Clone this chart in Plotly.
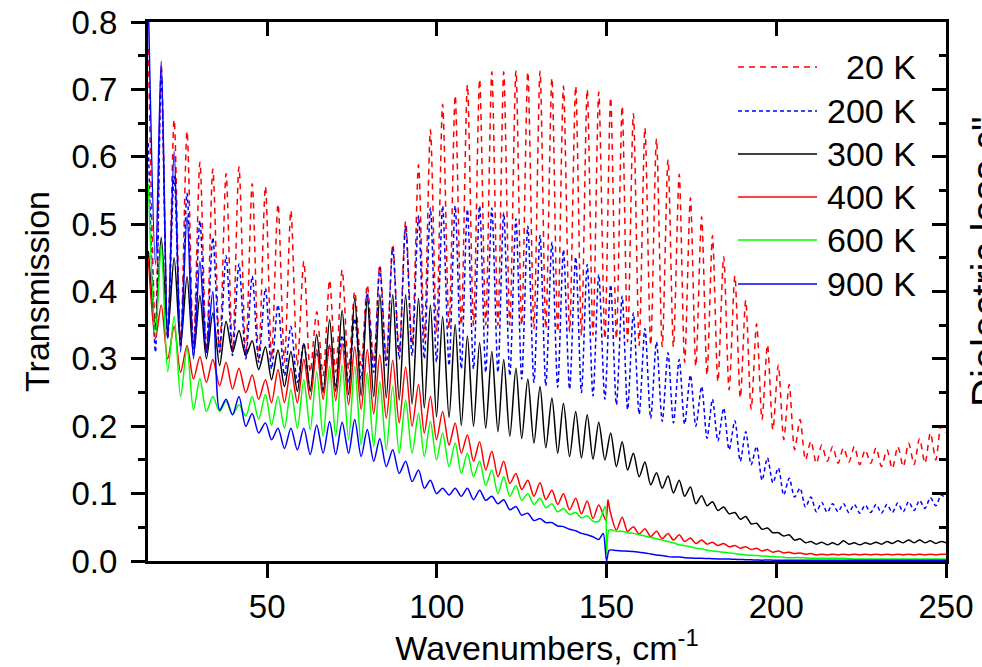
import plotly.graph_objects as go

# ---------------- data ----------------
# wavenumber positions of fringe maxima / minima (cm^-1)
peak_x = [15.0, 18.8, 22.6, 26.4, 30.2, 34.0, 37.9, 41.7, 45.6, 49.5,
          53.2, 57.0, 60.8, 64.6, 68.4, 72.1, 75.8, 79.5, 83.2, 87.0,
          90.8, 94.6, 98.1, 101.7, 105.4, 109.0, 112.6, 116.2, 119.7, 123.3,
          126.8, 130.4, 133.9, 137.3, 140.9, 144.3, 147.7, 151.2, 154.6, 157.9,
          161.3, 164.7, 168.1, 171.4, 174.7, 178.0, 181.2, 184.5, 187.8, 191.0,
          194.2, 197.4, 200.6, 203.8, 207.0, 210.2, 213.4, 216.6, 219.8, 223.0,
          226.2, 229.4, 232.6, 235.8, 239.0, 242.2, 245.4, 248.6]
trough_x = [17.1, 20.7, 24.5, 28.3, 32.1, 36.0, 39.8, 43.7, 47.5, 51.3,
            55.1, 58.9, 62.7, 66.5, 70.2, 74.0, 77.7, 81.4, 85.1, 88.9,
            92.7, 96.3, 99.9, 103.6, 107.2, 110.8, 114.4, 118.0, 121.5, 125.0,
            128.6, 132.1, 135.6, 139.1, 142.6, 146.0, 149.5, 152.9, 156.2, 159.6,
            163.0, 166.4, 169.7, 173.0, 176.3, 179.6, 182.8, 186.1, 189.4, 192.6,
            195.8, 199.0, 202.2, 205.4, 208.6, 211.8, 215.0, 218.2, 221.4, 224.6,
            227.8, 231.0, 234.2, 237.4, 240.6, 243.8, 247.0, 250.0]

t20_peak = [0.760, 0.735, 0.655, 0.638, 0.592, 0.582, 0.575, 0.585, 0.560, 0.556,
            0.530, 0.520, 0.445, 0.370, 0.417, 0.432, 0.400, 0.410, 0.440, 0.470,
            0.504, 0.588, 0.640, 0.678, 0.691, 0.707, 0.715, 0.726, 0.726, 0.728,
            0.726, 0.727, 0.717, 0.705, 0.705, 0.700, 0.696, 0.688, 0.675, 0.664,
            0.643, 0.627, 0.596, 0.574, 0.539, 0.511, 0.483, 0.452, 0.423, 0.387,
            0.352, 0.321, 0.291, 0.262, 0.210, 0.178, 0.172, 0.170, 0.168, 0.170,
            0.165, 0.168, 0.165, 0.170, 0.175, 0.182, 0.190, 0.200]
t20_trough = [0.340, 0.330, 0.320, 0.315, 0.310, 0.310, 0.310, 0.305, 0.300, 0.300,
              0.295, 0.290, 0.280, 0.275, 0.280, 0.285, 0.290, 0.295, 0.300, 0.310,
              0.320, 0.330, 0.340, 0.345, 0.350, 0.350, 0.350, 0.350, 0.350, 0.350,
              0.345, 0.345, 0.340, 0.340, 0.335, 0.335, 0.330, 0.330, 0.325, 0.320,
              0.320, 0.318, 0.318, 0.295, 0.289, 0.276, 0.266, 0.254, 0.242, 0.225,
              0.210, 0.195, 0.180, 0.165, 0.150, 0.145, 0.148, 0.145, 0.147, 0.143,
              0.145, 0.140, 0.137, 0.140, 0.143, 0.145, 0.150, 0.190]

t200_peak = [0.620, 0.720, 0.571, 0.546, 0.505, 0.480, 0.453, 0.441, 0.423, 0.405,
             0.380, 0.348, 0.323, 0.310, 0.320, 0.335, 0.360, 0.398, 0.435, 0.465,
             0.497, 0.512, 0.524, 0.527, 0.527, 0.522, 0.527, 0.524, 0.517, 0.508,
             0.497, 0.483, 0.473, 0.462, 0.451, 0.440, 0.425, 0.410, 0.393, 0.368,
             0.345, 0.325, 0.309, 0.299, 0.276, 0.259, 0.240, 0.227, 0.208, 0.192,
             0.170, 0.153, 0.138, 0.123, 0.108, 0.095, 0.087, 0.085, 0.085, 0.084,
             0.083, 0.084, 0.084, 0.086, 0.088, 0.090, 0.094, 0.098]
t200_trough = [0.310, 0.330, 0.320, 0.315, 0.310, 0.310, 0.305, 0.300, 0.295, 0.285,
               0.275, 0.265, 0.255, 0.255, 0.260, 0.265, 0.270, 0.280, 0.290, 0.300,
               0.305, 0.300, 0.295, 0.290, 0.285, 0.285, 0.280, 0.280, 0.275, 0.270,
               0.265, 0.260, 0.258, 0.255, 0.250, 0.245, 0.240, 0.232, 0.225, 0.218,
               0.212, 0.207, 0.205, 0.203, 0.200, 0.182, 0.178, 0.165, 0.148, 0.143,
               0.120, 0.116, 0.098, 0.095, 0.080, 0.073, 0.072, 0.073, 0.072, 0.071,
               0.072, 0.071, 0.072, 0.073, 0.075, 0.078, 0.082, 0.092]

t300_peak = [0.460, 0.480, 0.450, 0.422, 0.394, 0.368, 0.356, 0.342, 0.327, 0.318,
             0.313, 0.311, 0.323, 0.336, 0.358, 0.372, 0.390, 0.390, 0.395, 0.395,
             0.395, 0.390, 0.380, 0.363, 0.351, 0.334, 0.324, 0.311, 0.299, 0.286,
             0.270, 0.259, 0.242, 0.234, 0.222, 0.217, 0.206, 0.190, 0.177, 0.160,
             0.147, 0.131, 0.126, 0.120, 0.110, 0.097, 0.088, 0.080, 0.072, 0.066,
             0.056, 0.049, 0.042, 0.039, 0.033, 0.029, 0.028, 0.027, 0.030, 0.027,
             0.027, 0.028, 0.029, 0.030, 0.031, 0.031, 0.030, 0.029]
t300_trough = [0.350, 0.340, 0.320, 0.305, 0.300, 0.290, 0.310, 0.305, 0.284, 0.269,
               0.259, 0.252, 0.252, 0.250, 0.252, 0.247, 0.245, 0.244, 0.242, 0.239,
               0.233, 0.227, 0.214, 0.213, 0.201, 0.200, 0.197, 0.192, 0.185, 0.182,
               0.175, 0.168, 0.160, 0.155, 0.153, 0.151, 0.150, 0.140, 0.135, 0.125,
               0.113, 0.108, 0.101, 0.096, 0.085, 0.082, 0.075, 0.070, 0.062, 0.055,
               0.047, 0.042, 0.037, 0.031, 0.027, 0.025, 0.024, 0.024, 0.025, 0.024,
               0.025, 0.025, 0.026, 0.027, 0.027, 0.027, 0.026, 0.027]

t400_peak = [0.450, 0.380, 0.348, 0.320, 0.303, 0.299, 0.295, 0.286, 0.276, 0.269,
             0.284, 0.286, 0.299, 0.314, 0.321, 0.323, 0.318, 0.314, 0.306, 0.298,
             0.288, 0.262, 0.244, 0.222, 0.205, 0.187, 0.177, 0.163, 0.148, 0.130,
             0.120, 0.116, 0.105, 0.100, 0.093, 0.089, 0.083, 0.075, 0.065, 0.051,
             0.048, 0.044, 0.041, 0.039, 0.034, 0.031, 0.028, 0.026, 0.023, 0.021,
             0.019, 0.017, 0.015, 0.013, 0.012, 0.011, 0.010, 0.010, 0.010, 0.010,
             0.010, 0.010, 0.010, 0.010, 0.010, 0.010, 0.010, 0.010]
t400_trough = [0.330, 0.300, 0.280, 0.270, 0.265, 0.260, 0.255, 0.250, 0.240, 0.235,
               0.235, 0.235, 0.240, 0.240, 0.238, 0.232, 0.225, 0.218, 0.212, 0.205,
               0.200, 0.190, 0.180, 0.172, 0.160, 0.148, 0.135, 0.125, 0.115, 0.106,
               0.096, 0.091, 0.084, 0.076, 0.070, 0.063, 0.060, 0.046, 0.044, 0.040,
               0.036, 0.033, 0.031, 0.029, 0.026, 0.025, 0.023, 0.021, 0.019, 0.017,
               0.015, 0.013, 0.012, 0.011, 0.010, 0.009, 0.009, 0.009, 0.009, 0.009,
               0.009, 0.009, 0.009, 0.009, 0.009, 0.009, 0.009, 0.010]

t600_peak = [0.560, 0.470, 0.363, 0.316, 0.271, 0.244, 0.237, 0.232, 0.244, 0.247,
             0.244, 0.254, 0.269, 0.281, 0.289, 0.291, 0.289, 0.279, 0.266, 0.259,
             0.239, 0.219, 0.207, 0.190, 0.175, 0.160, 0.148, 0.135, 0.125, 0.112,
             0.100, 0.093, 0.085, 0.078, 0.072, 0.067, 0.059, 0.046, 0.044, 0.041,
             0.037, 0.033, 0.029, 0.024, 0.021, 0.018, 0.015, 0.013, 0.011, 0.009,
             0.008, 0.007, 0.006, 0.005, 0.005, 0.004, 0.004, 0.004, 0.004, 0.003,
             0.003, 0.003, 0.003, 0.003, 0.003, 0.003, 0.003, 0.003]
t600_trough = [0.335, 0.281, 0.244, 0.224, 0.222, 0.222, 0.217, 0.215, 0.210, 0.202,
               0.197, 0.197, 0.195, 0.185, 0.185, 0.180, 0.172, 0.170, 0.165, 0.160,
               0.160, 0.155, 0.150, 0.140, 0.130, 0.125, 0.112, 0.100, 0.096, 0.090,
               0.084, 0.079, 0.073, 0.069, 0.064, 0.059, 0.052, 0.044, 0.042, 0.039,
               0.035, 0.031, 0.027, 0.023, 0.019, 0.016, 0.014, 0.012, 0.010, 0.0085,
               0.0075, 0.0065, 0.0055, 0.005, 0.0045, 0.004, 0.004, 0.004, 0.0035, 0.003,
               0.003, 0.003, 0.003, 0.003, 0.003, 0.003, 0.003, 0.003]

t900_peak = [0.830, 0.742, 0.608, 0.512, 0.445, 0.400, 0.240, 0.244, 0.219, 0.205,
             0.197, 0.197, 0.197, 0.202, 0.207, 0.206, 0.210, 0.195, 0.182, 0.165,
             0.148, 0.135, 0.120, 0.108, 0.108, 0.108, 0.105, 0.096, 0.091, 0.081,
             0.071, 0.063, 0.057, 0.051, 0.045, 0.039, 0.032, 0.016, 0.015, 0.014,
             0.012, 0.009, 0.0065, 0.006, 0.0045, 0.004, 0.0035, 0.003, 0.0025, 0.002,
             0.0015, 0.0015, 0.001, 0.001, 0.001, 0.001, 0.001, 0.001, 0.001, 0.001,
             0.001, 0.001, 0.001, 0.001, 0.001, 0.001, 0.001, 0.001]
t900_trough = [0.440, 0.330, 0.310, 0.300, 0.310, 0.224, 0.217, 0.200, 0.190, 0.180,
               0.167, 0.165, 0.158, 0.160, 0.158, 0.160, 0.155, 0.148, 0.140, 0.130,
               0.118, 0.108, 0.100, 0.098, 0.096, 0.091, 0.090, 0.085, 0.076, 0.068,
               0.060, 0.057, 0.052, 0.047, 0.041, 0.036, 0.030, 0.0155, 0.0145, 0.013,
               0.0105, 0.008, 0.006, 0.005, 0.004, 0.0037, 0.003, 0.0028, 0.0022, 0.0018,
               0.0012, 0.0012, 0.001, 0.001, 0.001, 0.001, 0.001, 0.001, 0.001, 0.001,
               0.001, 0.001, 0.001, 0.001, 0.001, 0.001, 0.001, 0.001]

# sharp feature near 150 cm^-1
t400_feat_x = [149.8, 150.4, 151.0]
t400_feat_y = [0.060, 0.091, 0.075]
t600_feat_x = [149.6, 150.0, 150.8]
t600_feat_y = [0.081, 0.011, 0.046]
t900_feat_x = [149.0, 150.0, 150.8]
t900_feat_y = [0.041, 0.000, 0.016]

labels = ["20 K", "200 K", "300 K", "400 K", "600 K", "900 K"]
colors = ["#FF0000", "#0000FF", "#000000", "#FF0000", "#00FF00", "#0000FF"]
dashes = ["6px,5px", "4px,3px", "solid", "solid", "solid", "solid"]


def build(peaks, troughs, fx=(), fy=()):
    pts = []
    for a, b, c, d in zip(peak_x, peaks, trough_x, troughs):
        pts.append((a, b))
        pts.append((c, d))
    if fx:
        pts = [p for p in pts if all(abs(p[0] - f) > 0.6 for f in fx)]
        pts += list(zip(fx, fy))
        pts.sort()
    return [p[0] for p in pts], [p[1] for p in pts]


series = [
    build(t20_peak, t20_trough),
    build(t200_peak, t200_trough),
    build(t300_peak, t300_trough),
    build(t400_peak, t400_trough, t400_feat_x, t400_feat_y),
    build(t600_peak, t600_trough, t600_feat_x, t600_feat_y),
    build(t900_peak, t900_trough, t900_feat_x, t900_feat_y),
]

fig = go.Figure()
for (xs, ys), name, col, dsh in zip(series, labels, colors, dashes):
    fig.add_trace(go.Scatter(x=xs, y=ys, mode="lines", name=name,
                             line=dict(color=col, width=1.5, dash=dsh,
                                       shape="spline", smoothing=0.8),
                             showlegend=False))
# empty trace to activate the mirrored top/right axes
fig.add_trace(go.Scatter(x=[None], y=[None], xaxis="x2", yaxis="y2",
                         mode="lines", showlegend=False, hoverinfo="skip"))

FONT = "Arial, 'Liberation Sans', sans-serif"
L, R, T, B = 148, 36, 22, 106
W, H = 982, 667
pw, ph = W - L - R, H - T - B

axis_common = dict(showline=True, linewidth=3, linecolor="black", showgrid=False,
                   zeroline=False, tickcolor="black", tickwidth=2.5, ticklen=14,
                   automargin=False)

fig.update_layout(
    width=W, height=H,
    margin=dict(l=L, r=R, t=T, b=B, autoexpand=False),
    plot_bgcolor="white", paper_bgcolor="white",
    font=dict(family=FONT, size=33, color="black"),
    showlegend=False,
    xaxis=dict(range=[14.9, 250], tickvals=[50, 100, 150, 200, 250], ticks="outside",
               tickfont=dict(size=33), ticklabelstandoff=0,
               title=dict(text="Wavenumbers, cm<sup>-1</sup>", font=dict(size=34), standoff=0),
               **axis_common),
    xaxis2=dict(range=[14.9, 250], tickvals=[50, 100, 150, 200, 250], ticks="inside",
                overlaying="x", side="top", showticklabels=False, **axis_common),
    yaxis=dict(range=[0, 0.8], tickvals=[0, 0.1, 0.2, 0.3, 0.4, 0.5, 0.6, 0.7, 0.8],
               tickformat=".1f", ticks="outside", tickfont=dict(size=33),
               ticklabelstandoff=7,
               minor=dict(dtick=0.05, ticks="outside", ticklen=7, tickwidth=2.5, tickcolor="black"),
               title=dict(text="Transmission", font=dict(size=34), standoff=12),
               **axis_common),
    yaxis2=dict(range=[0, 0.8], tickvals=[0, 0.1, 0.2, 0.3, 0.4, 0.5, 0.6, 0.7, 0.8],
                ticks="inside", overlaying="y", side="right", showticklabels=False,
                minor=dict(dtick=0.05, ticks="inside", ticklen=7, tickwidth=2.5, tickcolor="black"),
                **axis_common),
)

# right-axis title: sits at the page edge and is cut by it, as in the original
fig.add_annotation(xref="paper", yref="paper", x=(986 - L) / pw, y=(H - B - 262) / ph,
                   text="Dielectric loss ε''", textangle=-90, showarrow=False,
                   xanchor="center", yanchor="middle",
                   font=dict(size=40, family=FONT, color="black"))

# hand-placed legend (long line samples as in the original)
row_y = [67, 111, 154, 197, 240, 284]
for name, col, dsh, py in zip(labels, colors, dashes, row_y):
    yp = (H - B - py) / ph
    fig.add_shape(type="line", xref="paper", yref="paper",
                  x0=(738 - L) / pw, x1=(817 - L) / pw, y0=yp, y1=yp,
                  line=dict(color=col, width=1.5, dash=dsh))
    fig.add_annotation(xref="paper", yref="paper", x=(918 - L) / pw, y=yp,
                       text=name, showarrow=False, xanchor="right", yanchor="middle",
                       font=dict(size=34, family=FONT, color="black"))

fig.write_html("out.html", config={"displayModeBar": False},
               post_script="document.body.style.margin='0';document.body.style.overflow='hidden';")
